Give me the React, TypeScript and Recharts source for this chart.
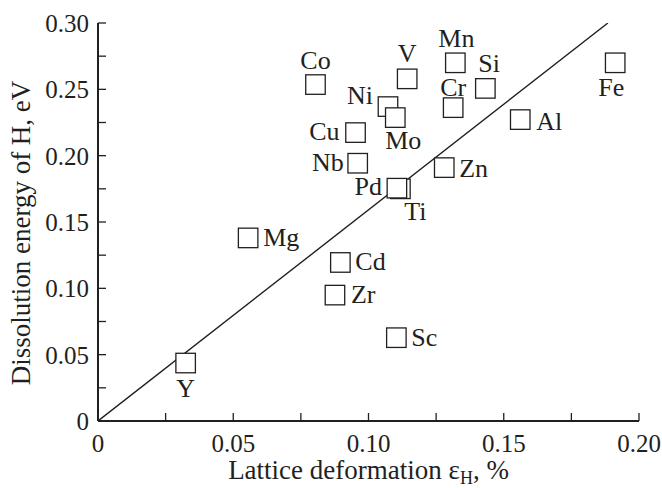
import { ScatterChart, Scatter, XAxis, YAxis } from "recharts"

// element, lattice deformation (%), dissolution energy of H (eV)
const elements = ["Co", "Ni", "Mo", "Cu", "Nb", "V", "Mn", "Si", "Cr", "Al", "Fe", "Zn", "Ti", "Pd", "Mg", "Cd", "Zr", "Sc", "Y"]
const deformation = [0.0804, 0.1072, 0.1099, 0.0952, 0.096, 0.1143, 0.1321, 0.1432, 0.1313, 0.1561, 0.1912, 0.128, 0.1118, 0.1105, 0.0555, 0.0896, 0.0876, 0.1103, 0.0324]
const energy = [0.2536, 0.237, 0.2287, 0.2174, 0.1943, 0.2579, 0.27, 0.2507, 0.2362, 0.2272, 0.27, 0.191, 0.175, 0.1755, 0.138, 0.1195, 0.0949, 0.0628, 0.0437]

// straight guide line through the origin
const lineX = [0, 0.1885]
const lineY = [0, 0.3]

const xTicks = [0, 0.025, 0.05, 0.075, 0.1, 0.125, 0.15, 0.175, 0.2]
const xTickLabels = ["0", "", "0.05", "", "0.10", "", "0.15", "", "0.20"]
const yTicks = [0, 0.025, 0.05, 0.075, 0.1, 0.125, 0.15, 0.175, 0.2, 0.225, 0.25, 0.275, 0.3]
const yTickLabels = ["0", "", "0.05", "", "0.10", "", "0.15", "", "0.20", "", "0.25", "", "0.30"]

const points = elements.map((name, i) => ({ name, x: deformation[i], y: energy[i] }))
const fitLine = lineX.map((x, i) => ({ x, y: lineY[i] }))

// where each element's name sits relative to its box: [dx, dy (baseline), anchor]
const labelPlacement: Record<string, [number, number, string]> = {
  Co: [0, -16, "middle"],
  Ni: [-15, -3, "end"],
  Mo: [8, 31, "middle"],
  Cu: [-16, 7, "end"],
  Nb: [-14, 8, "end"],
  V: [0, -17, "middle"],
  Mn: [1, -16, "middle"],
  Si: [-7, -16, "start"],
  Cr: [0, -12, "middle"],
  Al: [16, 10, "start"],
  Fe: [-4, 33, "middle"],
  Zn: [15, 9, "start"],
  Ti: [15, 31, "middle"],
  Pd: [-15, 7, "end"],
  Mg: [15, 8, "start"],
  Cd: [15, 8, "start"],
  Zr: [16, 8, "start"],
  Sc: [15, 8, "start"],
  Y: [0, 34, "middle"],
}

const ink = "#231f20"
const font = "Liberation Serif"
const BOX = 19.5

const fmt = (labels: string[], ticks: number[]) => (v: number) => {
  const i = ticks.findIndex((t) => Math.abs(t - v) < 1e-9)
  return i >= 0 ? labels[i] : ""
}

const ElementBox = (props: any) => {
  const { cx, cy, payload } = props
  const [dx, dy, anchor] = labelPlacement[payload.name] || [15, 8, "start"]
  return (
    <g>
      <rect
        x={cx - BOX / 2}
        y={cy - BOX / 2}
        width={BOX}
        height={BOX}
        fill="#fff"
        stroke={ink}
        strokeWidth={1.3}
      />
      <text
        x={cx + dx}
        y={cy + dy}
        textAnchor={anchor as any}
        fontSize={26}
        style={{ fontFamily: font }}
        fill={ink}
      >
        {payload.name}
      </text>
    </g>
  )
}

const XTitle = (props: any) => {
  const { viewBox } = props
  const cx = viewBox.x + viewBox.width / 2
  return (
    <text x={cx} y={479} textAnchor="middle" fontSize={27} style={{ fontFamily: font }} fill={ink}>
      Lattice deformation ε
      <tspan dy={5} fontSize={18}>H</tspan>
      <tspan dy={-5}>, %</tspan>
    </text>
  )
}

const YTitle = (props: any) => {
  const { viewBox } = props
  const cy = viewBox.y + viewBox.height / 2 + 11
  return (
    <text
      x={30}
      y={cy}
      transform={`rotate(-90, 30, ${cy})`}
      textAnchor="middle"
      fontSize={27}
      style={{ fontFamily: font }}
      fill={ink}
    >
      Dissolution energy of H, eV
    </text>
  )
}

const tickStyle = { fontSize: 25, fill: ink, style: { fontFamily: font } }
const axisLine = { stroke: ink, strokeWidth: 2 }
const tickLine = { stroke: ink, strokeWidth: 1.3 }

export default function App() {
  return (
    <div style={{ position: "absolute", left: 0, top: 0, background: "#fff", fontFamily: font }}>
      <ScatterChart
        width={662}
        height={488}
        margin={{ top: 23, right: 23, bottom: 0, left: 0 }}
        style={{ fontFamily: font }}
      >
        <XAxis
          type="number"
          dataKey="x"
          domain={[0, 0.2]}
          ticks={xTicks}
          tickFormatter={fmt(xTickLabels, xTicks)}
          interval={0}
          height={67}
          tickSize={-8}
          tickMargin={21}
          tick={tickStyle}
          axisLine={axisLine}
          tickLine={tickLine}
          label={{ content: XTitle }}
          allowDataOverflow
        />
        <YAxis
          type="number"
          dataKey="y"
          domain={[0, 0.3]}
          ticks={yTicks}
          tickFormatter={fmt(yTickLabels, yTicks)}
          interval={0}
          width={98}
          tickSize={-8}
          tickMargin={17}
          tick={tickStyle}
          axisLine={axisLine}
          tickLine={tickLine}
          label={{ content: YTitle }}
          allowDataOverflow
        />
        <XAxis
          xAxisId="top"
          orientation="top"
          type="number"
          domain={[0, 0.2]}
          ticks={xTicks}
          interval={0}
          height={0}
          tickSize={-8}
          tick={false}
          axisLine={axisLine}
          tickLine={tickLine}
          allowDataOverflow
        />
        <YAxis
          yAxisId="right"
          orientation="right"
          type="number"
          domain={[0, 0.3]}
          ticks={yTicks}
          interval={0}
          width={0}
          tickSize={-8}
          tick={false}
          axisLine={axisLine}
          tickLine={tickLine}
          allowDataOverflow
        />
        <Scatter
          data={fitLine}
          line={{ stroke: ink, strokeWidth: 1.4 }}
          shape={() => <g />}
          isAnimationActive={false}
        />
        <Scatter data={points} shape={ElementBox} isAnimationActive={false} />
      </ScatterChart>
    </div>
  )
}
